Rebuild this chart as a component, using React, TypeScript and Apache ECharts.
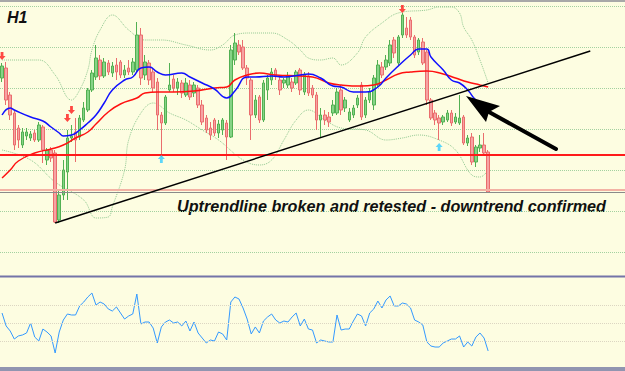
import React, { useEffect, useRef } from "react";
import * as echarts from "echarts";

// ---- data (price units; chart has no visible price labels) ----
const TOTAL_BARS = 153;
const categories = Array.from({ length: TOTAL_BARS }, (_, i) => "H1-" + (i + 1));

// [open, close, low, high]
const candles: number[][] = [
  [174, 186, 170, 189], [184, 152, 147, 190], [157, 137, 132, 160], [139, 107, 102, 142], [124, 112, 104, 127],
  [107, 120, 104, 124], [116, 120, 112, 124], [114, 118, 111, 121], [119, 112, 110, 122], [112, 127, 110, 130],
  [125, 102, 89, 127], [92, 102, 87, 104], [102, 94, 90, 105], [99, 30, 29, 102], [32, 57, 29, 62],
  [57, 82, 52, 92], [80, 114, 52, 122], [114, 116, 110, 127], [120, 112, 90, 134], [115, 134, 112, 137],
  [132, 144, 130, 150], [142, 162, 140, 164], [162, 179, 160, 182], [175, 194, 172, 207], [192, 176, 172, 197],
  [176, 190, 174, 194], [189, 180, 177, 192], [179, 186, 175, 190], [187, 180, 172, 194], [190, 177, 174, 192],
  [177, 182, 174, 187], [184, 180, 177, 192], [180, 190, 177, 194], [182, 217, 180, 230], [217, 174, 167, 224],
  [177, 190, 172, 197], [189, 172, 167, 192], [180, 164, 160, 184], [170, 137, 122, 174], [137, 129, 95, 140],
  [129, 155, 127, 157], [162, 167, 160, 189], [173, 164, 160, 177], [164, 170, 157, 174], [169, 159, 154, 172],
  [157, 169, 155, 174], [167, 155, 152, 172], [159, 167, 155, 170], [164, 147, 144, 167], [147, 130, 127, 152],
  [134, 122, 119, 137], [124, 117, 112, 130], [132, 119, 116, 134], [119, 128, 114, 132], [122, 132, 117, 134],
  [129, 115, 92, 132], [115, 202, 114, 207], [192, 209, 187, 219], [207, 200, 197, 212], [205, 184, 182, 212],
  [184, 174, 167, 187], [172, 137, 112, 174], [137, 152, 134, 157], [155, 132, 129, 157], [132, 169, 130, 172],
  [162, 174, 152, 177], [172, 180, 167, 184], [182, 176, 172, 184], [172, 162, 157, 177], [169, 172, 164, 174],
  [167, 176, 164, 180], [170, 164, 160, 174], [169, 180, 167, 182], [182, 162, 157, 184], [160, 177, 157, 180],
  [176, 159, 156, 180], [164, 157, 154, 167], [157, 132, 122, 160], [132, 137, 115, 144], [137, 132, 127, 142],
  [135, 130, 125, 140], [139, 147, 136, 152], [139, 160, 137, 164], [162, 142, 137, 167], [144, 152, 140, 155],
  [132, 140, 130, 144], [137, 144, 134, 147], [147, 154, 144, 157], [167, 135, 132, 170], [137, 152, 134, 155],
  [152, 160, 149, 164], [147, 174, 142, 177], [167, 187, 164, 192], [185, 177, 174, 190], [185, 192, 182, 197],
  [189, 207, 186, 212], [212, 199, 194, 215], [189, 215, 186, 217], [217, 237, 214, 239], [224, 217, 214, 235],
  [232, 215, 212, 235], [215, 197, 194, 217], [200, 212, 197, 214], [210, 189, 187, 214], [200, 152, 147, 202],
  [152, 134, 132, 154], [139, 132, 127, 142], [134, 129, 112, 137], [130, 135, 127, 137], [132, 139, 130, 142],
  [139, 129, 126, 142], [130, 135, 128, 139], [129, 134, 127, 157], [135, 109, 107, 137], [109, 114, 106, 117],
  [115, 90, 87, 119], [90, 105, 85, 107], [104, 107, 100, 117], [107, 99, 96, 119], [100, 60, 59, 102],
];

// [bar index, value]
const maFast: number[][] = [
  [0, 137], [2, 144], [3, 142], [7, 135], [10, 131], [12, 125], [14, 119], [15, 116], [17, 117], [19, 122],
  [21, 129], [23, 137], [25, 149], [27, 162], [30, 172], [32, 175], [34, 184], [36, 185], [38, 180], [40, 177],
  [44, 179], [46, 175], [49, 169], [52, 163], [55, 154], [57, 161], [60, 175], [62, 175], [66, 176], [69, 175],
  [73, 177], [75, 178], [78, 174], [81, 166], [83, 165], [86, 160], [89, 160], [92, 165], [94, 174], [97, 186],
  [100, 197], [102, 203], [104, 203], [105, 195], [108, 182], [110, 172], [112, 169], [114, 162], [116, 152], [119, 144],
];
const maSlow: number[][] = [
  [0, 74], [2, 82], [4, 91], [8, 99], [12, 103], [15, 107], [18, 114], [21, 120], [23, 128], [26, 140],
  [29, 148], [33, 154], [35, 159], [38, 160], [42, 160], [47, 161], [52, 164], [55, 165], [57, 172], [60, 177],
  [63, 179], [67, 177], [73, 176], [76, 175], [80, 169], [83, 167], [88, 166], [91, 167], [94, 172], [97, 178],
  [100, 180], [104, 181], [108, 178], [111, 174], [114, 170], [117, 167], [119, 165],
];
const bandUpper: number[][] = [
  [0, 192], [9, 192], [13, 177], [17, 152], [19, 162], [21, 182], [22, 202], [24, 222], [27, 237], [31, 222],
  [35, 212], [39, 212], [45, 207], [51, 202], [54, 207], [57, 217], [61, 219], [66, 219], [70, 212], [73, 202],
  [75, 194], [78, 192], [81, 194], [83, 187], [87, 199], [89, 215], [93, 229], [97, 239], [104, 242], [107, 245],
  [110, 245], [112, 239], [113, 225], [115, 212], [117, 192], [119, 169],
];
const bandLower: number[][] = [
  [0, 102], [7, 92], [13, 70], [20, 52], [23, 34], [26, 35], [27, 45], [30, 82], [31, 112], [34, 139],
  [37, 149], [41, 139], [45, 132], [49, 122], [53, 112], [59, 92], [63, 87], [66, 92], [69, 112], [72, 132],
  [75, 142], [79, 132], [83, 124], [89, 122], [94, 112], [98, 114], [102, 117], [107, 112], [111, 102], [115, 77],
  [117, 75], [119, 82],
];
const rsi: number[] = [
  61.1, 46.7, 41.1, 32.2, 35.6, 36.7, 38.9, 50, 34.4, 30,
  43.3, 40, 35.6, 16.7, 40, 53.3, 60, 58.9, 58.9, 68.9,
  73.3, 78.9, 83.3, 70, 73.3, 71.1, 65.6, 63.3, 67.8, 61.1,
  54.4, 57.8, 60, 82.2, 48.9, 51.1, 51.1, 44.4, 27.8, 45.6,
  51.1, 53.3, 50, 51.1, 46.7, 52.2, 41.1, 51.1, 38.9, 33.3,
  27.8, 31.1, 30, 40, 37.8, 31.1, 73.3, 78.9, 76.7, 66.7,
  54.4, 37.8, 45.6, 38.9, 52.2, 56.7, 60, 53.3, 50, 52.2,
  51.1, 56.7, 61.1, 46.7, 54.4, 43.3, 42.2, 27.8, 31.1, 30,
  28.9, 28.9, 58.9, 42.2, 43.3, 43.3, 52.2, 60, 57.8, 46.7,
  61.1, 65.6, 74.4, 66.7, 75.6, 80, 68.9, 68.9, 72.2, 71.1,
  66.7, 53.3, 51.1, 47.8, 28.9, 24.4, 23.3, 23.3, 27.8, 30,
  32.2, 32.2, 35.6, 23.3, 28.9, 24.4, 34.4, 38.9, 33.3, 18.9,
];
const rsiLevels = [30, 50, 70];
const trendline: number[][] = [[13, 29], [144, 201]];
const supportLevel = 97;
const zoneLevel = 62;
const bidLevel = 60;
const fractalsDown: number[][] = [[0, 196], [16, 134], [17, 142], [98, 243]];
const fractalsUp: number[][] = [[39, 93], [107, 105]];
const timeframe = "H1";
const note = "Uptrendline broken and retested - downtrend confirmed";

const DOWN_ARROW = "path://M3,0L7,0L7,5L10,5L5,10L0,5L3,5Z";
const UP_ARROW = "path://M5,0L10,5L7,5L7,10L3,10L3,5L0,5Z";

export default function App() {
  const ref = useRef<HTMLDivElement>(null);
  useEffect(() => {
    document.body.style.margin = "0";
    if (!ref.current) return;
    const chart = echarts.init(ref.current, undefined, { renderer: "svg" });
    const bandStyle = { color: "#92c892", width: 1, type: "dotted" as const };
    chart.setOption({
      animation: false,
      backgroundColor: "#fdfde1",
      grid: [
        { left: 0, right: 0, top: 6, height: 246 },
        { left: 0, right: 0, top: 278, height: 90 },
      ],
      xAxis: [
        { type: "category", data: categories, gridIndex: 0, boundaryGap: true, show: false },
        { type: "category", data: categories, gridIndex: 1, boundaryGap: true, show: false },
      ],
      yAxis: [
        {
          type: "value", gridIndex: 0, min: 0, max: 246, interval: 41,
          axisLabel: { show: false }, axisLine: { show: false }, axisTick: { show: false },
          splitLine: { show: true, lineStyle: { color: "#a3d1a0", type: "dotted", width: 1 } },
        },
        {
          type: "value", gridIndex: 1, min: 0, max: 100,
          axisLabel: { show: false }, axisLine: { show: false }, axisTick: { show: false },
          splitLine: { show: false },
        },
      ],
      series: [
        { type: "line", data: bandUpper, smooth: 0.4, symbol: "none", lineStyle: bandStyle, z: 1 },
        { type: "line", data: bandLower, smooth: 0.4, symbol: "none", lineStyle: bandStyle, z: 1 },
        {
          type: "candlestick", data: candles, barWidth: 3, z: 2,
          itemStyle: {
            color: "#86d486", color0: "#f7a3a3",
            borderColor: "#52b052", borderColor0: "#ea6d6d", borderWidth: 1,
          },
          markLine: {
            symbol: "none", silent: true, label: { show: false }, z: 3,
            data: [
              { yAxis: zoneLevel, lineStyle: { color: "#f3b2a4", width: 2, type: "solid" } },
              { yAxis: bidLevel, lineStyle: { color: "#8a8a8a", width: 1, type: "solid" } },
              { yAxis: supportLevel, lineStyle: { color: "#ff1a1a", width: 2, type: "solid" } },
            ],
          },
        },
        { type: "line", data: maSlow, smooth: 0.5, symbol: "none", lineStyle: { color: "#ff1010", width: 1.5 }, z: 4 },
        { type: "line", data: maFast, smooth: 0.5, symbol: "none", lineStyle: { color: "#1010ff", width: 1.5 }, z: 5 },
        { type: "line", data: trendline, symbol: "none", lineStyle: { color: "#000", width: 1.5 }, z: 6 },
        {
          type: "scatter", data: fractalsDown, symbol: DOWN_ARROW, symbolSize: [7, 8],
          itemStyle: { color: "#ff1a1a" }, z: 7,
        },
        {
          type: "scatter", data: fractalsUp, symbol: UP_ARROW, symbolSize: [7, 8],
          itemStyle: { color: "#33ccff" }, z: 7,
        },
        {
          type: "line", xAxisIndex: 1, yAxisIndex: 1, data: rsi, symbol: "none",
          lineStyle: { color: "#3399ff", width: 1 }, z: 3,
          markLine: {
            symbol: "none", silent: true, label: { show: false },
            data: rsiLevels.map((v) => ({ yAxis: v })),
            lineStyle: { color: "#dcd6c2", width: 1, type: "dotted" },
          },
        },
      ],
      graphic: [
        { type: "rect", shape: { x: 0, y: 0, width: 625, height: 2 }, style: { fill: "#a8a8a8" }, silent: true },
        { type: "rect", shape: { x: 0, y: 275.5, width: 625, height: 2 }, style: { fill: "#7474a8" }, silent: true },
        { type: "rect", shape: { x: 0, y: 367, width: 625, height: 4 }, style: { fill: "#9195b0" }, silent: true },
        {
          type: "text", x: 7, y: 17,
          style: { text: timeframe, font: 'italic bold 16px "Liberation Sans", Arial, sans-serif', fill: "#111", textVerticalAlign: "middle" },
        },
        {
          type: "text", x: 177, y: 206,
          style: { text: note, font: 'italic bold 16.2px "Liberation Sans", Arial, sans-serif', fill: "#111", textVerticalAlign: "middle" },
        },
        {
          type: "line", shape: { x1: 489, y1: 112, x2: 556, y2: 149 },
          style: { stroke: "#000", lineWidth: 4, lineCap: "round" }, z: 100,
        },
        {
          type: "polygon", shape: { points: [[466, 96], [500, 106], [489, 112], [486, 122]] },
          style: { fill: "#000" }, z: 100,
        },
      ],
    });
    return () => chart.dispose();
  }, []);
  return <div ref={ref} style={{ width: 625, height: 371 }} />;
}
